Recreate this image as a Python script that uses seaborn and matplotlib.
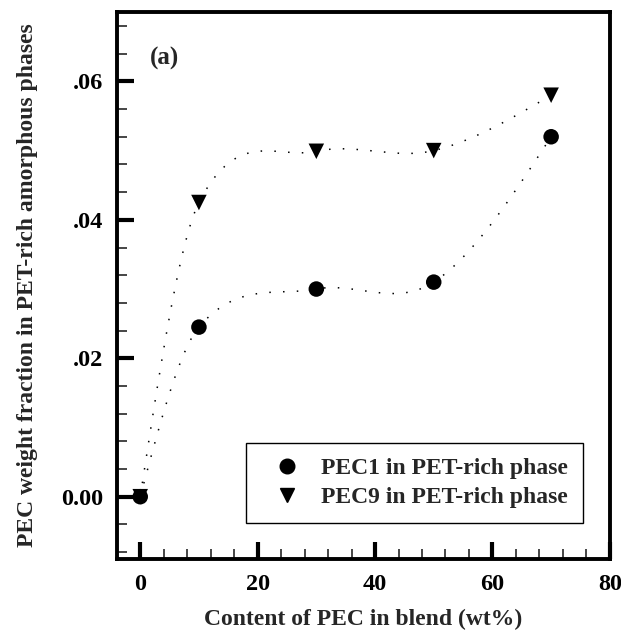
import numpy as np
import pandas as pd
import matplotlib
matplotlib.use("Agg")
import matplotlib.pyplot as plt
import seaborn as sns
from matplotlib.ticker import FixedLocator, FixedFormatter, MultipleLocator
from matplotlib.lines import Line2D

# ---- data ----
content = [0, 10, 30, 50, 70]
pec1 = [0.0, 0.0245, 0.0300, 0.0310, 0.0520]
pec9 = [0.0, 0.0425, 0.0499, 0.0500, 0.0580]
series_names = ["PEC1 in PET-rich phase", "PEC9 in PET-rich phase"]
x_ticks = [0, 20, 40, 60, 80]
x_tick_labels = ["0", "20", "40", "60", "80"]
y_ticks = [0.0, 0.02, 0.04, 0.06]
y_tick_labels = ["0.00", ".02", ".04", ".06"]


def smooth_curve(x, y, xs):
    """Cubic Hermite curve through (x, y): central-difference tangents,
    natural end conditions."""
    x = np.asarray(x, float)
    y = np.asarray(y, float)
    n = len(x)
    h = np.diff(x)
    s = np.diff(y) / h
    m = np.zeros(n)
    for i in range(1, n - 1):
        m[i] = (y[i + 1] - y[i - 1]) / (x[i + 1] - x[i - 1])
    m[0] = (3 * s[0] - m[1]) / 2
    m[-1] = (3 * s[-1] - m[-2]) / 2
    out = np.empty_like(xs)
    for k, xv in enumerate(xs):
        i = min(max(np.searchsorted(x, xv) - 1, 0), n - 2)
        t = (xv - x[i]) / h[i]
        h00 = 2 * t**3 - 3 * t**2 + 1
        h10 = t**3 - 2 * t**2 + t
        h01 = -2 * t**3 + 3 * t**2
        h11 = t**3 - t**2
        out[k] = h00 * y[i] + h10 * h[i] * m[i] + h01 * y[i + 1] + h11 * h[i] * m[i + 1]
    return out


sns.set_style("ticks")
plt.rcParams['font.family'] = ['Liberation Serif', 'DejaVu Serif']
plt.rcParams['font.weight'] = 'bold'

fig = plt.figure(figsize=(6.21, 6.30), dpi=100)
ax = fig.add_axes([0.188, 0.1127, 0.794, 0.868])

xs = np.linspace(min(content), max(content), 400)
for vals in (pec1, pec9):
    dfc = pd.DataFrame({"x": xs, "y": smooth_curve(content, vals, xs)})
    sns.lineplot(data=dfc, x="x", y="y", ax=ax, color="black", lw=1.1,
                 linestyle=(0, (1, 8)), legend=False)

df = pd.DataFrame({"x": content * 2, "y": pec1 + pec9,
                   "s": [series_names[0]] * 5 + [series_names[1]] * 5})
sns.scatterplot(data=df, x="x", y="y", style="s",
                markers={series_names[0]: "o", series_names[1]: "v"},
                color="black", s=125, edgecolor="black", linewidth=0, ax=ax,
                legend=False, zorder=5)

ax.set_xlim(-4, 80)
ax.set_ylim(-0.009, 0.07)
ax.xaxis.set_major_locator(FixedLocator(x_ticks))
ax.xaxis.set_major_formatter(FixedFormatter(x_tick_labels))
ax.yaxis.set_major_locator(FixedLocator(y_ticks))
ax.yaxis.set_major_formatter(FixedFormatter(y_tick_labels))
ax.xaxis.set_minor_locator(MultipleLocator(4))
ax.yaxis.set_minor_locator(MultipleLocator(0.004))
ax.tick_params(which="major", direction="in", length=12, width=3, labelsize=17.5,
               top=False, right=False, colors="black")
ax.tick_params(axis="y", which="major", pad=9.5)
ax.tick_params(axis="x", which="major", pad=10.5)
ax.tick_params(which="minor", direction="in", length=7, width=1.2, top=False, right=False)
for sp in ax.spines.values():
    sp.set_linewidth(2.8)
    sp.set_color("black")
for lab in ax.get_xticklabels() + ax.get_yticklabels():
    lab.set_fontweight("bold")

ax.set_xlabel("Content of PEC in blend (wt%)", fontsize=17, fontweight="bold", labelpad=10)
ax.set_ylabel("PEC weight fraction in PET-rich amorphous phases", fontsize=17,
              fontweight="bold", labelpad=17)
ax.text(0.067, 0.905, "(a)", transform=ax.transAxes, fontsize=18, fontweight="bold")

handles = [Line2D([], [], marker="o", color="black", linestyle="none", markersize=10.5),
           Line2D([], [], marker="v", color="black", linestyle="none", markersize=10)]
leg = ax.legend(handles, series_names, loc="lower right", bbox_to_anchor=(0.945, 0.066),
                frameon=True, fancybox=False, framealpha=1, edgecolor="black",
                prop={"size": 17, "weight": "bold"}, borderpad=0.63, labelspacing=0.32,
                handletextpad=0.3, handlelength=2.25, borderaxespad=0)
leg.get_frame().set_linewidth(1.0)

fig.savefig("out.png", dpi=100)
